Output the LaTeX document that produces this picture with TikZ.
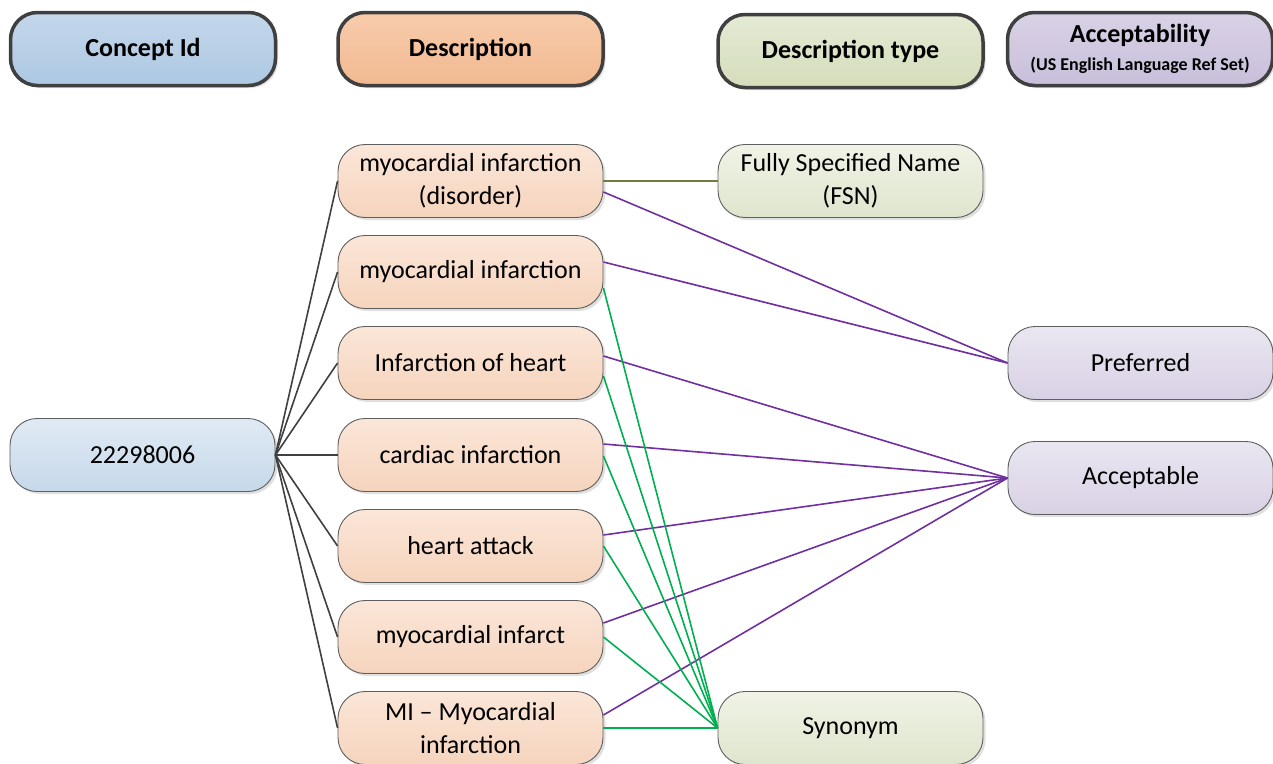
\documentclass[tikz,border=0pt]{standalone}
\usepackage{fontspec}
\setmainfont{Carlito}
\usetikzlibrary{shadows}
\definecolor{hdr}{HTML}{3F3F3F}
\definecolor{nbd}{HTML}{5E5E5E}
\definecolor{conn}{HTML}{404040}
\definecolor{purp}{HTML}{7030A0}
\definecolor{grn}{HTML}{00B050}
\definecolor{olive}{HTML}{6E7D3E}
\definecolor{bHt}{RGB}{196,215,235}\definecolor{bHb}{RGB}{173,200,226}
\definecolor{bNt}{RGB}{224,234,244}\definecolor{bNb}{RGB}{198,216,234}
\definecolor{oHt}{RGB}{248,204,172}\definecolor{oHb}{RGB}{241,185,145}
\definecolor{oNt}{RGB}{251,230,216}\definecolor{oNb}{RGB}{245,212,189}
\definecolor{gHt}{RGB}{228,234,212}\definecolor{gHb}{RGB}{212,221,187}
\definecolor{gNt}{RGB}{240,243,230}\definecolor{gNb}{RGB}{222,229,205}
\definecolor{pHt}{RGB}{217,210,230}\definecolor{pHb}{RGB}{200,190,218}
\definecolor{pNt}{RGB}{234,230,241}\definecolor{pNb}{RGB}{216,209,229}
\tikzset{
  box/.style={rounded corners=27pt, minimum width=265pt, minimum height=73pt, inner sep=0pt, align=center,
    drop shadow={shadow xshift=2.5pt, shadow yshift=-2.5pt, fill=black!35, opacity=0.35}},
  hbox/.style={box, draw=hdr, line width=3.5pt},
  hfont/.style={font=\fontsize{26}{30}\selectfont\bfseries},
  nbox/.style={box, draw=nbd, line width=0.9pt, font=\fontsize{26}{33}\selectfont},
  blueH/.style={top color=bHt, bottom color=bHb},
  blueN/.style={top color=bNt, bottom color=bNb},
  orangeH/.style={top color=oHt, bottom color=oHb},
  orangeN/.style={top color=oNt, bottom color=oNb},
  greenH/.style={top color=gHt, bottom color=gHb},
  greenN/.style={top color=gNt, bottom color=gNb},
  purpleH/.style={top color=pHt, bottom color=pHb},
  purpleN/.style={top color=pNt, bottom color=pNb},
  cline/.style={draw=conn, line width=1.6pt},
  pline/.style={draw=purp, line width=1.6pt},
  gline/.style={draw=grn, line width=1.6pt},
  oline/.style={draw=olive, line width=1.6pt}
}
\begin{document}
\begin{tikzpicture}[x=1pt,y=-1pt]
\useasboundingbox (0,0) rectangle (1273,763);
% headers
\node[hbox, blueH, hfont] (hc) at (143,49) {Concept Id};
\node[hbox, orangeH, hfont] (hd) at (470.5,49) {Description};
\node[hbox, greenH, hfont] (ht) at (850.5,51) {Description type};
\node[hbox, purpleH, font=\bfseries] (ha) at (1140,49) {{\fontsize{26}{30}\selectfont Acceptability}\\[9pt]{\fontsize{18}{20}\selectfont (US English Language Ref Set)}};
% nodes
\node[nbox, blueN] (cid) at (142.5,455) {22298006};
\node[nbox, orangeN] (d1) at (470.5,181) {myocardial infarction\\(disorder)};
\node[nbox, orangeN] (d2) at (470.5,272) {myocardial infarction};
\node[nbox, orangeN] (d3) at (470.5,363) {Infarction of heart};
\node[nbox, orangeN] (d4) at (470.5,455) {cardiac infarction};
\node[nbox, orangeN] (d5) at (470.5,546) {heart attack};
\node[nbox, orangeN] (d6) at (470.5,637) {myocardial infarct};
\node[nbox, orangeN] (d7) at (470.5,728) {MI -- Myocardial\\infarction};
\node[nbox, greenN] (fsn) at (850.5,181) {Fully Specified Name\\(FSN)};
\node[nbox, greenN] (syn) at (850.5,728) {Synonym};
\node[nbox, purpleN] (pref) at (1140.5,363) {Preferred};
\node[nbox, purpleN] (acc) at (1140.5,478) {Acceptable};
% concept links
\foreach \d in {d1,d2,d3,d4,d5,d6,d7} { \draw[cline] (cid.east) -- (\d.west); }
% FSN
\draw[oline] (d1.east) -- (fsn.west);
% preferred
\draw[pline] ([yshift=-11pt]d1.east) -- (pref.west);
\draw[pline] ([yshift=10pt]d2.east) -- (pref.west);
% acceptable
\draw[pline] ([yshift=7pt]d3.east) -- (acc.west);
\draw[pline] ([yshift=11pt]d4.east) -- (acc.west);
\draw[pline] ([yshift=11pt]d5.east) -- (acc.west);
\draw[pline] ([yshift=14pt]d6.east) -- (acc.west);
\draw[pline] ([yshift=13pt]d7.east) -- (acc.west);
% synonym
\draw[gline] ([yshift=-16pt]d2.east) -- (syn.west);
\draw[gline] ([yshift=-13pt]d3.east) -- (syn.west);
\draw[gline] ([yshift=-1pt]d4.east) -- (syn.west);
\draw[gline] (d5.east) -- (syn.west);
\draw[gline] (d6.east) -- (syn.west);
\draw[gline] (d7.east) -- (syn.west);
\end{tikzpicture}
\end{document}
